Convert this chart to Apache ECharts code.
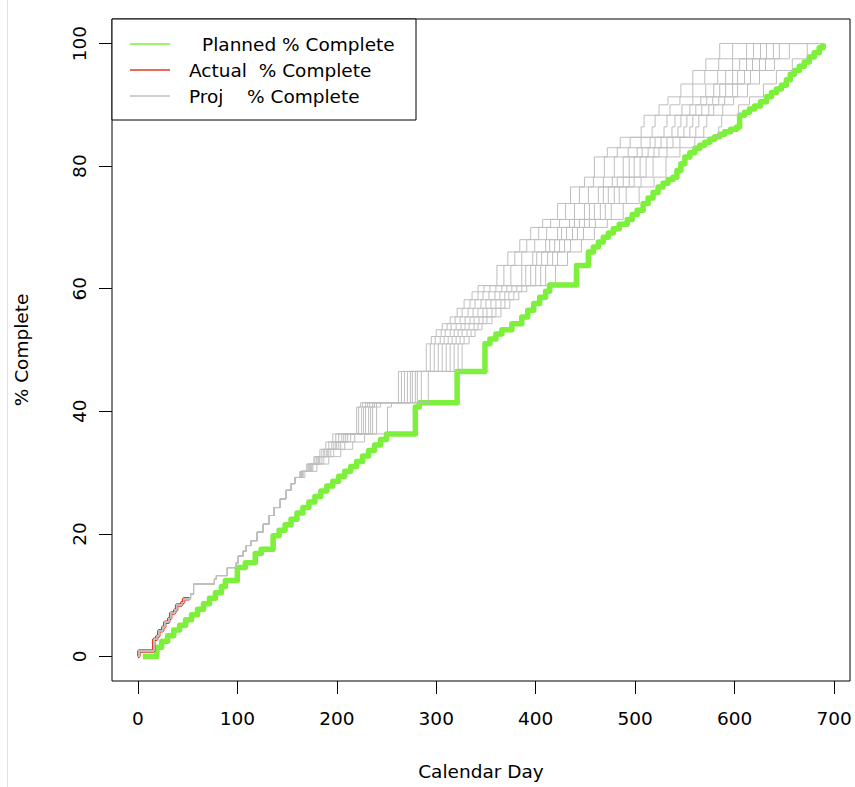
<!DOCTYPE html>
<html>
<head>
<meta charset="utf-8">
<script src="https://cdn.jsdelivr.net/npm/echarts@6/dist/echarts.min.js"></script>
<style>
html,body{margin:0;padding:0;background:#fff;}
#chart{width:855px;height:787px;}
</style>
</head>
<body>
<div id="chart"></div>
<script>
// ---- tick labels ----
const xTicks = [0, 100, 200, 300, 400, 500, 600, 700];
const yTicks = [0, 20, 40, 60, 80, 100];

// ---- planned % complete (step change points: [day, %]) ----
const planned = [[5,0],[19,1.5],[24,2.5],[30,3.4],[36,4.3],[42,5.1],[48,6],[54,6.8],[60,7.7],[66,8.6],[72,9.5],[78,10.4],[84,11.4],[88,12.4],[100,14.5],[108,15.3],[118,16.8],[124,17.5],[136,19.7],[142,20.6],[148,21.5],[154,22.4],[160,23.4],[166,24.3],[172,25.2],[178,26.1],[184,27],[190,27.8],[196,28.6],[202,29.4],[208,30.2],[214,31],[220,31.8],[226,32.7],[232,33.6],[238,34.5],[244,35.4],[250,36.3],[279,40.7],[283,41.4],[321,46.5],[349,51],[354,51.8],[360,52.6],[366,53.3],[376,54.3],[386,55.4],[392,56.5],[398,57.6],[404,58.6],[410,59.6],[414,60.6],[441,63.8],[453,66],[458,66.8],[463,67.6],[468,68.4],[473,69.1],[478,69.8],[484,70.5],[492,71.3],[497,72.1],[502,72.8],[508,73.9],[513,74.8],[518,75.7],[523,76.6],[528,77.2],[533,77.8],[538,78.2],[542,79.3],[546,80.4],[550,81.5],[555,82.2],[560,82.9],[565,83.4],[570,83.9],[575,84.4],[580,84.8],[585,85.2],[590,85.6],[596,86],[602,86.4],[605,88.3],[610,88.8],[615,89.3],[620,89.8],[626,90.5],[632,91.3],[637,92],[642,92.6],[647,93.2],[652,94.1],[656,95],[660,95.6],[665,96.3],[670,97],[675,97.8],[680,98.5],[685,99.3],[689,100]];

// ---- actual % complete ----
const actual = [[0,0],[1,0.9],[16,2.8],[19,3.3],[21,4.2],[25,4.8],[27,5.6],[31,6.2],[33,7.1],[37,7.6],[39,8.4],[44,8.8],[46,9.4],[52,9.4]];

// ---- projected % complete: shared history, then one tail per projection ----
const projCommon = [[0,0],[1,0.9],[16,2.8],[19,3.3],[21,4.2],[25,4.8],[27,5.6],[31,6.2],[33,7.1],[37,7.6],[39,8.4],[44,8.8],[46,9.4],[53,10.2],[56,11.8],[77,12.6],[79,13.2],[90,14.5],[99,15.3],[101,16.4],[106,17.2],[109,18.1],[114,18.9],[120,20.3],[126,21.6],[132,23],[137,24.3],[143,25.7],[149,27.1],[154,28.2],[158,29.2]];

const proj1 = [[163,30.2],[170,31.4],[177,32.6],[183,33.8],[189,35],[196,36.3],[220,40.7],[224,41.4],[262,46.5],[290,51],[295,52.2],[300,53.3],[306,54.3],[314,55.4],[321,56.8],[328,58.2],[336,59.5],[342,60.5],[361,63.8],[372,66],[384,68],[395,70],[407,71.3],[422,73.9],[435,76.6],[449,78.2],[459,81.5],[472,83],[485,84.7],[506,86.4],[509,88.3],[524,90],[533,91.3],[546,93.4],[558,95.6],[571,97.5],[585,100],[689,100]];
const proj2 = [[163,30.2],[170,31.4],[178,32.6],[185,33.8],[192,35],[199,36.3],[222,40.7],[226,41.4],[265,46.5],[294,51],[299,52.2],[305,53.3],[311,54.3],[319,55.4],[326,56.8],[334,58.2],[342,59.5],[348,60.5],[368,63.8],[379,66],[391,68],[403,70],[415,71.3],[430,73.9],[444,76.6],[458,78.2],[469,81.5],[482,83],[495,84.7],[517,86.4],[520,88.3],[535,90],[545,91.3],[558,93.4],[570,95.6],[584,97.5],[598,100],[689,100]];
const proj3 = [[164,30.2],[172,31.4],[180,32.6],[187,33.8],[195,35],[202,36.3],[225,40.7],[229,41.4],[268,46.5],[298,51],[304,52.2],[309,53.3],[315,54.3],[324,55.4],[332,56.8],[339,58.2],[347,59.5],[354,60.5],[375,63.8],[386,66],[399,68],[411,70],[424,71.3],[439,73.9],[453,76.6],[468,78.2],[479,81.5],[493,83],[506,84.7],[529,86.4],[532,88.3],[547,90],[558,91.3],[571,93.4],[583,95.6],[598,97.5],[612,100],[689,100]];
const proj4 = [[164,30.2],[172,31.4],[180,32.6],[188,33.8],[197,35],[205,36.3],[227,40.7],[231,41.4],[271,46.5],[302,51],[308,52.2],[314,53.3],[320,54.3],[329,55.4],[337,56.8],[345,58.2],[353,59.5],[360,60.5],[386,63.8],[397,66],[410,68],[422,70],[434,71.3],[449,73.9],[463,76.6],[477,78.2],[488,81.5],[502,83],[515,84.7],[537,86.4],[540,88.3],[555,90],[566,91.3],[579,93.4],[591,95.6],[605,97.5],[619,100],[689,100]];
const proj5 = [[165,30.2],[173,31.4],[182,32.6],[190,33.8],[199,35],[207,36.3],[229,40.7],[233,41.4],[274,46.5],[306,51],[312,52.2],[318,53.3],[325,54.3],[334,55.4],[342,56.8],[350,58.2],[359,59.5],[366,60.5],[390,63.8],[401,66],[414,68],[426,70],[439,71.3],[454,73.9],[468,76.6],[482,78.2],[494,81.5],[507,83],[520,84.7],[543,86.4],[546,88.3],[561,90],[572,91.3],[585,93.4],[598,95.6],[612,97.5],[626,100],[689,100]];
const proj6 = [[165,30.2],[174,31.4],[182,32.6],[191,33.8],[200,35],[209,36.3],[232,40.7],[236,41.4],[276,46.5],[310,51],[316,52.2],[322,53.3],[329,54.3],[338,55.4],[347,56.8],[355,58.2],[364,59.5],[371,60.5],[395,63.8],[406,66],[419,68],[431,70],[444,71.3],[459,73.9],[473,76.6],[488,78.2],[499,81.5],[513,83],[526,84.7],[549,86.4],[552,88.3],[567,90],[578,91.3],[591,93.4],[603,95.6],[618,97.5],[632,100],[689,100]];
const proj7 = [[165,30.2],[174,31.4],[183,32.6],[192,33.8],[202,35],[211,36.3],[234,40.7],[238,41.4],[279,46.5],[314,51],[320,52.2],[326,53.3],[333,54.3],[343,55.4],[351,56.8],[360,58.2],[369,59.5],[376,60.5],[400,63.8],[412,66],[424,68],[437,70],[449,71.3],[465,73.9],[479,76.6],[494,78.2],[505,81.5],[519,83],[532,84.7],[555,86.4],[558,88.3],[574,90],[584,91.3],[598,93.4],[610,95.6],[625,97.5],[639,100],[689,100]];
const proj8 = [[166,30.2],[175,31.4],[185,32.6],[194,33.8],[204,35],[214,36.3],[236,40.7],[240,41.4],[281,46.5],[318,51],[324,52.2],[331,53.3],[338,54.3],[347,55.4],[356,56.8],[365,58.2],[373,59.5],[381,60.5],[405,63.8],[417,66],[429,68],[442,70],[454,71.3],[470,73.9],[484,76.6],[499,78.2],[511,81.5],[524,83],[538,84.7],[561,86.4],[564,88.3],[579,90],[590,91.3],[603,93.4],[616,95.6],[631,97.5],[645,100],[689,100]];
const proj9 = [[166,30.2],[176,31.4],[187,32.6],[197,33.8],[208,35],[218,36.3],[240,40.7],[244,41.4],[285,46.5],[322,51],[328,52.2],[335,53.3],[342,54.3],[351,55.4],[360,56.8],[369,58.2],[378,59.5],[386,60.5],[410,63.8],[422,66],[435,68],[448,70],[460,71.3],[476,73.9],[491,76.6],[506,78.2],[518,81.5],[532,83],[545,84.7],[569,86.4],[572,88.3],[588,90],[599,91.3],[613,93.4],[625,95.6],[640,97.5],[655,100],[689,100]];
const proj10 = [[168,30.2],[180,31.4],[192,32.6],[204,33.8],[216,35],[228,36.3],[251,40.7],[255,41.4],[292,46.5],[326,51],[333,52.2],[339,53.3],[346,54.3],[356,55.4],[365,56.8],[374,58.2],[383,59.5],[391,60.5],[420,63.8],[432,66],[446,68],[459,70],[472,71.3],[488,73.9],[504,76.6],[519,78.2],[531,81.5],[545,83],[560,84.7],[584,86.4],[587,88.3],[604,90],[615,91.3],[629,93.4],[642,95.6],[658,97.5],[673,100],[689,100]];
const projTails = [proj1, proj2, proj3, proj4, proj5, proj6, proj7, proj8, proj9, proj10];

// ---- legend labels ----
const legendLabels = ['Planned % Complete', 'Actual  % Complete', 'Proj    % Complete'];

const FONT = '"DejaVu Sans", "Liberation Sans", Arial, sans-serif';
const FS = 18.5;
const GREEN = '#7cf03a', RED = '#e03a22', GRAY = '#bebebe';

const chart = echarts.init(document.getElementById('chart'), null, {renderer: 'svg'});

const series = [
  {name: 'Planned', type: 'line', step: 'end', data: planned, symbol: 'none',
   lineStyle: {color: GREEN, width: 5.5, join: 'round'}, z: 2},
  {name: 'Actual', type: 'line', step: 'end', data: actual, symbol: 'none',
   lineStyle: {color: RED, width: 3.5}, z: 3}
];
projTails.forEach((t, i) => {
  series.push({name: 'Proj ' + (i + 1), type: 'line', step: 'end', data: projCommon.concat(t), symbol: 'none',
    lineStyle: {color: GRAY, width: 1}, z: 4});
});

const legendX = 112, legendY = 19, legendW = 304, legendH = 101;
const rowY = [44, 70, 96];
const rowColors = [GREEN, RED, GRAY];
const textX = [202, 189, 189];
const legendChildren = [{
  type: 'rect', shape: {x: legendX, y: legendY, width: legendW, height: legendH},
  style: {fill: '#fff', stroke: '#000', lineWidth: 1}
}];
legendLabels.forEach((lab, i) => {
  legendChildren.push({type: 'line', shape: {x1: 130, y1: rowY[i], x2: 170, y2: rowY[i]},
    style: {stroke: rowColors[i], lineWidth: 1.5}});
  legendChildren.push({type: 'text', x: textX[i], y: rowY[i],
    style: {text: lab, fill: '#000', font: FS + 'px ' + FONT, fontSize: FS, fontFamily: FONT,
      align: 'left', verticalAlign: 'middle', textVerticalAlign: 'middle', whiteSpace: 'pre'}});
});

const option = {
  animation: false,
  backgroundColor: '#fff',
  grid: {left: 112, right: 5, top: 19, bottom: 106, show: true, borderColor: '#000', borderWidth: 1},
  xAxis: {
    type: 'value', min: -26, max: 716,
    splitLine: {show: false},
    axisLine: {show: false, onZero: false},
    axisTick: {show: true, customValues: xTicks, length: 13, lineStyle: {color: '#000', width: 1}},
    axisLabel: {customValues: xTicks, margin: 28, color: '#000', fontSize: FS, fontFamily: FONT},
    name: 'Calendar Day', nameLocation: 'middle', nameGap: 81,
    nameTextStyle: {color: '#000', fontSize: FS, fontFamily: FONT}
  },
  yAxis: {
    type: 'value', min: -4, max: 104,
    splitLine: {show: false},
    axisLine: {show: false, onZero: false},
    axisTick: {show: true, customValues: yTicks, length: 13, lineStyle: {color: '#000', width: 1}},
    axisLabel: {customValues: yTicks, margin: 23, rotate: 90, color: '#000', fontSize: FS, fontFamily: FONT},
    name: '% Complete', nameLocation: 'middle', nameGap: 81, nameRotate: 90,
    nameTextStyle: {color: '#000', fontSize: FS, fontFamily: FONT}
  },
  series: series,
  graphic: [
    {type: 'line', shape: {x1: 7.5, y1: 0, x2: 7.5, y2: 787}, style: {stroke: '#e2e2e2', lineWidth: 1}, z: 0, silent: true},
    {type: 'group', children: legendChildren, z: 100}
  ]
};
chart.setOption(option);
</script>
</body>
</html>
